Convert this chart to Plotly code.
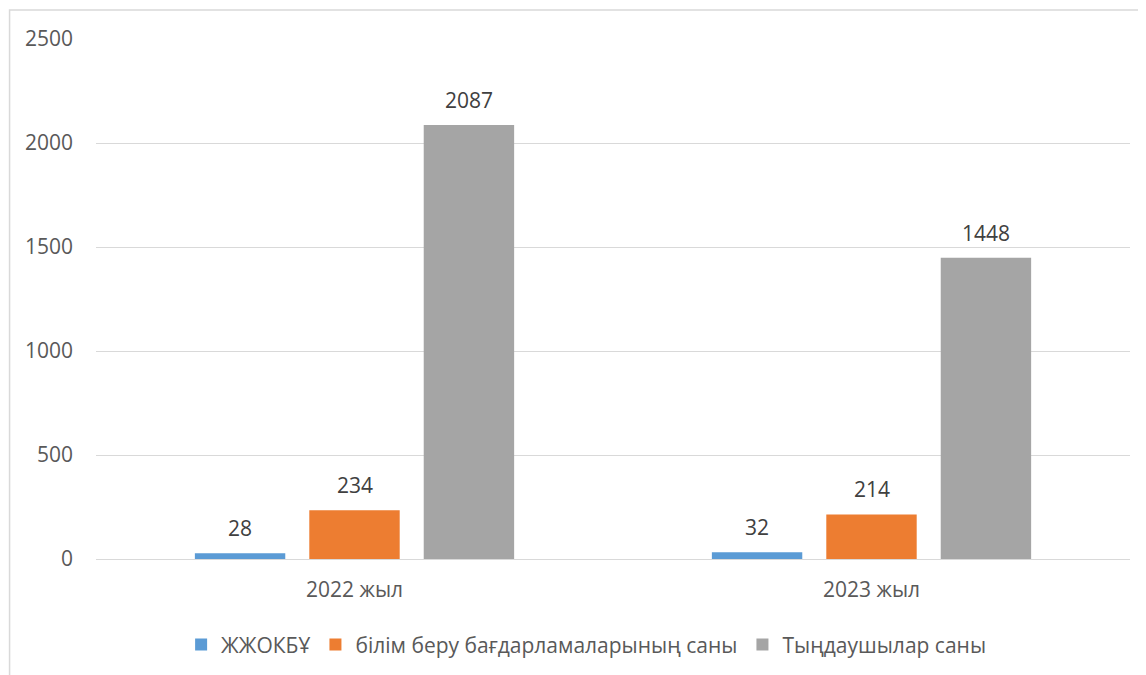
import plotly.graph_objects as go

# Kategorien und Werte
years = ["2022 жыл", "2023 жыл"]
series_names = ["ЖЖОКБҰ", "білім беру бағдарламаларының саны", "Тыңдаушылар саны"]
zhzhokbu = [28, 32]
programs = [234, 214]
listeners = [2087, 1448]
colors = ["#5b9bd5", "#ed7d31", "#a5a5a5"]

text_col = "#595959"
grid_col = "#d9d9d9"
font_family = "'Open Sans', sans-serif"

# Seite hat 8px Rand im Browser -> Figur etwas kleiner
W, H = 1138, 667
ML, MR, MT, MB = 88, 16, 31, 116
plot_w = W - ML - MR
slot = plot_w / len(years) * (1 - 0.336) / 3  # Breite je Balken-Slot in px

fig = go.Figure()
for i, (name, vals, col) in enumerate(zip(series_names, [zhzhokbu, programs, listeners], colors)):
    fig.add_trace(go.Bar(
        x=years, y=vals, name=name, marker_color=col,
        marker_line_width=0,
    ))
    # Datenbeschriftungen über den Balken
    for yr, v in zip(years, vals):
        fig.add_annotation(
            x=yr, y=v, xref="x", yref="y", text=str(v), showarrow=False,
            xshift=(i - 1) * slot, yshift=25, yanchor="middle",
            font=dict(size=21, color="#404040", family=font_family),
        )

# Rahmen um das Diagramm (wie in Excel)
fig.add_shape(type="rect", xref="paper", yref="paper",
              x0=-0.0836, x1=1.2, y0=-0.4, y1=1.0558,
              line=dict(color=grid_col, width=1.5), layer="below")

fig.update_layout(
    width=W, height=H,
    margin=dict(l=ML, r=MR, t=MT, b=MB, autoexpand=False),
    paper_bgcolor="white", plot_bgcolor="white",
    font=dict(family=font_family, size=21, color=text_col),
    barmode="group", bargap=0.336, bargroupgap=0.21,
    showlegend=True,
    legend=dict(orientation="h", x=0.474, xanchor="center", y=-0.165, yanchor="middle",
                font=dict(size=21, color=text_col), itemwidth=30,
                traceorder="normal"),
    xaxis=dict(showline=True, linecolor=grid_col, linewidth=1, ticks="",
               ticklabelstandoff=12,
               tickfont=dict(size=21, color=text_col)),
    yaxis=dict(range=[0, 2500], dtick=500, showgrid=True, gridcolor=grid_col,
               gridwidth=1, zeroline=False, showline=False, ticks="",
               ticklabelstandoff=22,
               tickfont=dict(size=21, color=text_col)),
)

fig.write_html("out.html")
